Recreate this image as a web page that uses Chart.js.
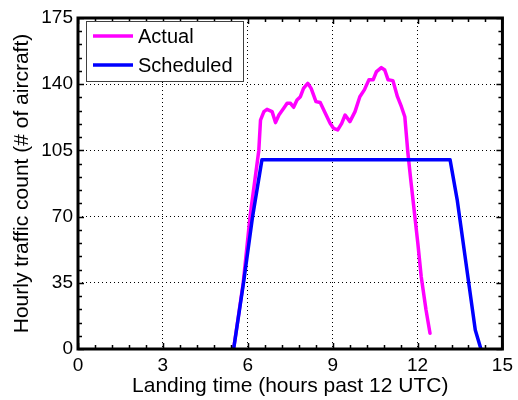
<!DOCTYPE html>
<html>
<head>
<meta charset="utf-8">
<script src="https://cdn.jsdelivr.net/npm/chart.js@4/dist/chart.umd.min.js"></script>
<style>
  body { margin: 0; background: #fff; }
  canvas { display: block; }
</style>
</head>
<body>
<canvas id="chart" width="518" height="400"></canvas>
<script>
// values
var actualHours = [5.5, 5.84, 6.08, 6.39, 6.45, 6.57, 6.68, 6.86, 6.98, 7.10, 7.27, 7.39, 7.51, 7.62, 7.74, 7.86, 7.97, 8.12, 8.24, 8.41, 8.56, 8.74, 8.91, 9.03, 9.18, 9.32, 9.44, 9.61, 9.79, 9.96, 10.12, 10.28, 10.43, 10.55, 10.72, 10.84, 10.96, 11.13, 11.29, 11.43, 11.55, 11.60, 11.66, 11.76, 11.84, 12.01, 12.13, 12.30, 12.44];
var actualCounts = [0, 35, 70, 105, 121, 125.5, 126.7, 125.5, 119.7, 123.7, 127.3, 129.9, 129.9, 127.8, 131.7, 133.4, 137.8, 140.5, 137.8, 130.8, 130.3, 124.6, 119.3, 116.7, 115.8, 119.3, 123.7, 120.2, 125.5, 133.4, 137, 142.3, 142.3, 146.7, 148.8, 147.5, 142.3, 141.9, 133.4, 128.1, 122.8, 114, 103.5, 89.4, 78.8, 55.9, 38.2, 20.6, 8.3];

var schedHours = [5.5, 5.85, 6.17, 6.5, 13.15, 13.4, 14.04, 14.24];
var schedCounts = [0, 35, 70, 100, 100, 79, 10, 0];

var xTicks = [0, 3, 6, 9, 12, 15];
var yTicks = [0, 35, 70, 105, 140, 175];

function pts(xs, ys) {
    var out = [];
    for (var i = 0; i < xs.length; i++) out.push({ x: xs[i], y: ys[i] });
    return out;
}

var FONT = '"Liberation Sans", Arial, sans-serif';

// box round the plot, ticks pointing in, and the legend
var frame = {
    id: 'frame',
    afterDraw: function(chart) {
        var ctx = chart.ctx, a = chart.chartArea;
        var x = chart.scales.x, y = chart.scales.y;
        ctx.save();
        ctx.strokeStyle = '#000';
        ctx.lineWidth = 1.5;
        ctx.beginPath();
        for (var i = 0; i <= 25; i++) {
            var px = Math.round(x.getPixelForValue(i * 0.6)) + 0.5;
            var len = (i % 5 === 0) ? 6 : 4;
            ctx.moveTo(px, a.bottom); ctx.lineTo(px, a.bottom - len);
            ctx.moveTo(px, a.top); ctx.lineTo(px, a.top + len);
        }
        for (var j = 0; j <= 25; j++) {
            var py = Math.round(y.getPixelForValue(j * 7)) + 0.5;
            var l2 = (j % 5 === 0) ? 6 : 4;
            ctx.moveTo(a.left, py); ctx.lineTo(a.left + l2, py);
            ctx.moveTo(a.right, py); ctx.lineTo(a.right - l2, py);
        }
        ctx.stroke();

        ctx.lineWidth = 3;
        ctx.strokeRect(a.left, a.top, a.right - a.left, a.bottom - a.top);

        // legend
        var lx = a.left + 8, ly = a.top + 3, lw = 157, lh = 60;
        ctx.fillStyle = '#fff';
        ctx.fillRect(lx, ly, lw, lh);
        ctx.lineWidth = 1;
        ctx.strokeStyle = '#404040';
        ctx.strokeRect(lx + 0.5, ly + 0.5, lw, lh);
        ctx.font = '20px ' + FONT;
        ctx.textBaseline = 'middle';
        ctx.textAlign = 'left';
        var ds = chart.data.datasets;
        for (var k = 0; k < ds.length; k++) {
            var yy = ly + 15 + k * 29;
            ctx.strokeStyle = ds[k].borderColor;
            ctx.lineWidth = 3.5;
            ctx.beginPath();
            ctx.moveTo(lx + 7, yy); ctx.lineTo(lx + 47, yy);
            ctx.stroke();
            ctx.fillStyle = '#000';
            ctx.fillText(ds[k].label, lx + 52, yy + 1);
        }
        ctx.restore();
    }
};

new Chart(document.getElementById('chart'), {
    type: 'line',
    data: {
        datasets: [{
            label: 'Actual',
            data: pts(actualHours, actualCounts),
            borderColor: '#ff00ff',
            borderWidth: 3.5,
            pointRadius: 0,
            fill: false,
            order: 1
        }, {
            label: 'Scheduled',
            data: pts(schedHours, schedCounts),
            borderColor: '#0000ff',
            borderWidth: 3.5,
            pointRadius: 0,
            fill: false,
            order: 0
        }]
    },
    options: {
        responsive: false,
        animation: false,
        events: [],
        layout: { padding: { left: 0, right: 13, top: 18, bottom: 0 } },
        plugins: { legend: { display: false }, tooltip: { enabled: false } },
        elements: { line: { tension: 0, borderJoinStyle: 'round', borderCapStyle: 'round' } },
        scales: {
            x: {
                type: 'linear',
                min: 0,
                max: 15,
                afterBuildTicks: function(s) { s.ticks = xTicks.map(function(v) { return { value: v }; }); },
                afterFit: function(s) { s.height = 51; },
                ticks: { color: '#000', font: { family: FONT, size: 19 }, padding: 5, maxRotation: 0 },
                grid: { color: '#000', lineWidth: 1, drawTicks: false },
                border: { display: false, dash: [1, 3] },
                title: {
                    display: true,
                    text: 'Landing time (hours past 12 UTC)',
                    color: '#000',
                    font: { family: FONT, size: 21 },
                    padding: { top: 0, bottom: 1 }
                }
            },
            y: {
                min: 0,
                max: 175,
                afterBuildTicks: function(s) { s.ticks = yTicks.map(function(v) { return { value: v }; }); },
                afterFit: function(s) { s.width = 78; },
                ticks: { color: '#000', font: { family: FONT, size: 19 }, padding: 5 },
                grid: { color: '#000', lineWidth: 1, drawTicks: false },
                border: { display: false, dash: [1, 3] },
                title: {
                    display: true,
                    text: 'Hourly traffic count (# of aircraft)',
                    color: '#000',
                    font: { family: FONT, size: 21 },
                    padding: { top: 10, bottom: 0 }
                }
            }
        }
    },
    plugins: [frame]
});
</script>
</body>
</html>
